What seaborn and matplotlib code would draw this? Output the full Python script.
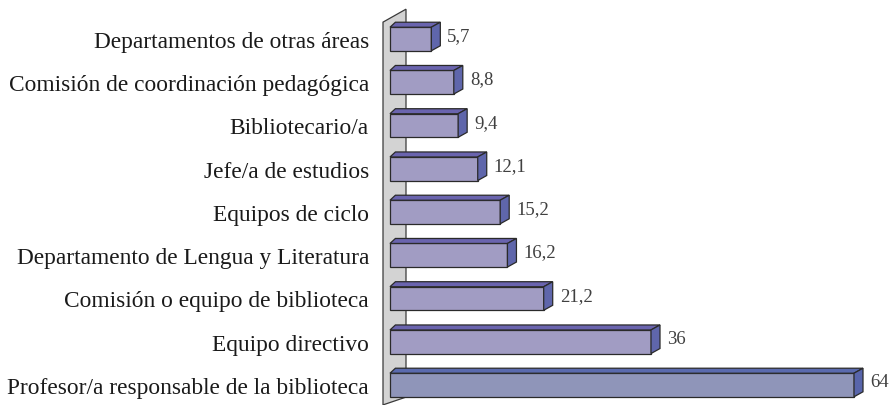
import numpy as np
import pandas as pd
import matplotlib
matplotlib.use("Agg")
import matplotlib.pyplot as plt
import seaborn as sns

# Data (percent)
categories = [
    "Departamentos de otras áreas",
    "Comisión de coordinación pedagógica",
    "Bibliotecario/a",
    "Jefe/a de estudios",
    "Equipos de ciclo",
    "Departamento de Lengua y Literatura",
    "Comisión o equipo de biblioteca",
    "Equipo directivo",
    "Profesor/a responsable de la biblioteca",
]
values = [5.7, 8.8, 9.4, 12.1, 15.2, 16.2, 21.2, 36, 64]
value_labels = ["5,7", "8,8", "9,4", "12,1", "15,2", "16,2", "21,2", "36", "64"]

# colours: front, top, side (last bar is a little bluer)
front_colors = ["#9c95c9"] * 8 + ["#8890c0"]
top_colors = ["#6a64ae"] * 8 + ["#5a6aae"]
side_colors = ["#5f66ab"] * 8 + ["#5865ab"]

df = pd.DataFrame({"cat": categories, "val": values})

sns.set_style("white")
plt.rcParams["font.family"] = ["Liberation Serif", "DejaVu Serif"]

W, H = 891, 406
fig = plt.figure(figsize=(W / 100, H / 100), dpi=100)
ax_left = 380
ax = fig.add_axes([ax_left / W, 0, (W - ax_left) / W, 1])

px_x = 7.25    # pixels per percent
px_y = 43.25   # pixels per category
bar_h = 0.545
sns.barplot(data=df, x="val", y="cat", hue="cat", palette=front_colors,
            orient="h", width=bar_h, legend=False, ax=ax,
            edgecolor="#2a2a2a", linewidth=0.9, zorder=3)

x0 = -10 / px_x
ax.set_xlim(x0, x0 + (W - ax_left) / px_x)
ax.set_ylim((H - 40) / px_y, -40 / px_y)

# 3D depth of the bars
dx = 9 / px_x
dy = 5 / px_y
for i, v in enumerate(values):
    top = i - bar_h / 2
    bot = i + bar_h / 2
    ax.fill([0, v, v + dx, 0 + dx * 0.6], [top, top, top - dy, top - dy],
            facecolor=top_colors[i], edgecolor="#2a2a2a", linewidth=0.9, zorder=3)
    ax.fill([v, v + dx, v + dx, v], [top, top - dy, bot - dy, bot],
            facecolor=side_colors[i], edgecolor="#2a2a2a", linewidth=0.9, zorder=3)
    ax.text(v + dx + 7 / px_x, i - dy / 2 - 0.02, value_labels[i],
            va="center", ha="left", fontsize=13.5, color="#404040")

# grey wall behind the bars
wl, wr = -7 / px_x, 16 / px_x
ax.fill([wl, wr, wr, wl], [-0.39, -0.69, 8.28, 8.46],
        facecolor="#d3d3d3", edgecolor="#3a3a3a", linewidth=0.9, zorder=1)

ax.set_xlabel("")
ax.set_ylabel("")
ax.set_xticks([])
ax.tick_params(axis="y", length=0, pad=8, labelsize=16.8, labelcolor="#1a1a1a")
for s in ax.spines.values():
    s.set_visible(False)

fig.savefig("out.png", dpi=100)
